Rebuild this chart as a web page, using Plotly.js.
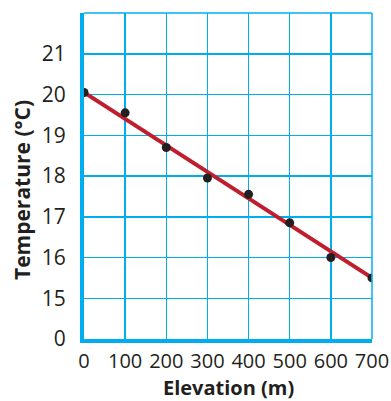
<!DOCTYPE html>
<html>
<head>
<meta charset="utf-8">
<script src="https://cdn.plot.ly/plotly-3.0.1.min.js"></script>
<style>html,body{margin:0;padding:0;background:#fff;}#chart{width:391px;height:401px;}</style>
</head>
<body>
<div id="chart"></div>
<script>
// Data
var elevation = [0, 100, 200, 300, 400, 500, 600, 700];
var temperature = [20.05, 19.55, 18.7, 17.95, 17.55, 16.85, 16.0, 15.5];
// Trend line endpoints
var lineElevation = [0, 700];
var lineTemperature = [20.05, 15.5];
// Axis ticks (y axis has a break: bottom shows 0)
var xTicks = [0, 100, 200, 300, 400, 500, 600, 700];
var xTickText = ['0', '100', '200', '300', '400', '500', '600', '700'];
var yTicks = [14, 15, 16, 17, 18, 19, 20, 21];
var yTickText = ['0', '15', '16', '17', '18', '19', '20', '21'];

var blue = '#00aeef';
var ink = '#231f20';
var xTitleFont = {size: 20, color: ink, family: 'Open Sans, sans-serif', weight: 'bold'};
var yTitleFont = {size: 21, color: ink, family: 'Open Sans, sans-serif', weight: 'bold'};

var traces = [
  {x: lineElevation, y: lineTemperature, mode: 'lines', type: 'scatter',
   line: {color: '#be1e2d', width: 4}, hoverinfo: 'skip'},
  {x: elevation, y: temperature, mode: 'markers', type: 'scatter',
   marker: {color: ink, size: 9}}
];

var layout = {
  width: 391, height: 401,
  margin: {l: 84, r: 19, t: 13, b: 62},
  showlegend: false,
  paper_bgcolor: '#fff', plot_bgcolor: '#fff',
  font: {family: 'Open Sans, sans-serif', color: ink},
  xaxis: {
    range: [0, 700], tickvals: xTicks, ticktext: xTickText,
    showgrid: true, gridcolor: blue, gridwidth: 1.5,
    showline: true, linecolor: blue, linewidth: 4,
    zeroline: false, ticks: '', ticklabelstandoff: 1,
    tickfont: {size: 20, color: ink}
  },
  yaxis: {
    range: [14, 22], tickvals: yTicks, ticktext: yTickText,
    showgrid: true, gridcolor: blue, gridwidth: 1.5,
    showline: true, linecolor: blue, linewidth: 4,
    zeroline: false, ticks: '', ticklabelstandoff: 10,
    tickfont: {size: 21, color: ink}
  },
  annotations: [
    {text: 'Elevation (m)', xref: 'paper', yref: 'paper', x: 0.5, y: 0, yshift: -48,
     xanchor: 'center', yanchor: 'middle', showarrow: false, font: xTitleFont},
    {text: 'Temperature (°C)', xref: 'paper', yref: 'paper', x: 0, xshift: -62, y: 0.457,
     xanchor: 'center', yanchor: 'middle', textangle: -90, showarrow: false, font: yTitleFont}
  ],
  shapes: [
    {type: 'line', xref: 'paper', yref: 'paper', x0: 0, x1: 1, y0: 1, y1: 1, line: {color: blue, width: 1.5}},
    {type: 'line', xref: 'paper', yref: 'paper', x0: 1, x1: 1, y0: 0, y1: 1, line: {color: blue, width: 1.5}}
  ]
};

Plotly.newPlot('chart', traces, layout, {displayModeBar: false, staticPlot: true});
</script>
</body>
</html>
